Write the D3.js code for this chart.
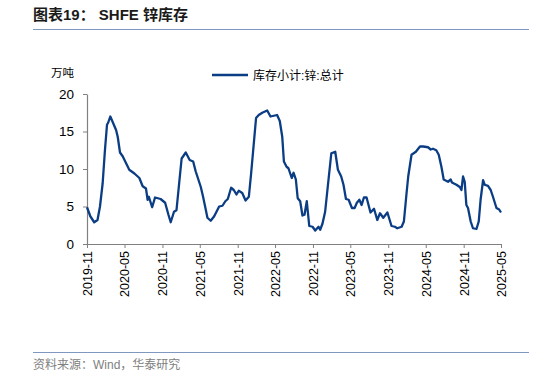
<!DOCTYPE html>
<html>
<head>
<meta charset="utf-8">
<script src="https://cdn.jsdelivr.net/npm/d3@7"></script>
<style>
  body { margin: 0; background: #fff; }
  svg { display: block; font-family: Arial, "Liberation Sans", "Noto Sans CJK SC", sans-serif; }
</style>
</head>
<body>
<div id="chart"></div>
<script>
// SHFE zinc inventory, 万吨
const dates = [
  '2019-11-01','2019-11-17','2019-12-06','2019-12-22','2020-01-03','2020-01-16','2020-01-27','2020-02-06',
  '2020-02-12','2020-02-22','2020-03-04','2020-03-21','2020-03-29','2020-04-09','2020-04-22','2020-05-08',
  '2020-05-24','2020-06-18','2020-07-12','2020-07-28','2020-08-13','2020-08-21','2020-08-27','2020-09-12',
  '2020-09-26','2020-10-23','2020-11-14','2020-11-30','2020-12-11','2020-12-27','2021-01-08','2021-01-21',
  '2021-02-02','2021-02-22','2021-03-13','2021-03-30','2021-04-11','2021-05-06','2021-05-17','2021-05-30',
  '2021-06-07','2021-06-23','2021-07-10','2021-08-03','2021-08-19','2021-09-02','2021-09-14','2021-09-30',
  '2021-10-13','2021-10-26','2021-11-06','2021-11-23','2021-12-09','2021-12-25','2022-01-05','2022-01-18',
  '2022-01-29','2022-02-11','2022-02-28','2022-03-24','2022-04-09','2022-04-25','2022-05-11','2022-05-24',
  '2022-06-05','2022-06-13','2022-06-26','2022-07-05','2022-07-21','2022-07-30','2022-08-10','2022-08-19',
  '2022-08-31','2022-09-11','2022-09-21','2022-10-02','2022-10-14','2022-10-30','2022-11-12','2022-11-28',
  '2022-12-06','2022-12-17','2022-12-30','2023-01-12','2023-01-29','2023-02-17','2023-03-02','2023-03-18',
  '2023-03-29','2023-04-10','2023-04-23','2023-05-09','2023-05-22','2023-06-02','2023-06-14','2023-06-25',
  '2023-07-06','2023-07-19','2023-08-07','2023-08-24','2023-09-09','2023-09-22','2023-10-08','2023-10-28',
  '2023-11-17','2023-12-03','2023-12-15','2024-01-05','2024-01-16','2024-01-29','2024-02-06','2024-02-22',
  '2024-03-14','2024-04-03','2024-04-19','2024-05-12','2024-05-25','2024-06-05','2024-06-21','2024-07-03',
  '2024-07-16','2024-07-27','2024-08-17','2024-08-30','2024-09-05','2024-09-27','2024-10-13','2024-10-21',
  '2024-10-29','2024-11-06','2024-11-14','2024-11-22','2024-12-05','2024-12-16','2025-01-02','2025-01-13',
  '2025-01-22','2025-02-03','2025-02-11','2025-02-27','2025-03-12','2025-03-23','2025-04-09','2025-04-22',
  '2025-05-01'
];
const zincStock = [
  4.9, 3.7, 2.9, 3.2, 5.0, 8.1, 12.5, 15.9,
  16.2, 17.0, 16.3, 15.2, 14.3, 12.2, 11.7, 10.8,
  9.9, 9.4, 8.8, 7.7, 7.4, 5.9, 6.3, 4.9,
  6.2, 6.0, 5.5, 3.9, 2.9, 4.3, 4.5, 8.1,
  11.4, 12.2, 11.2, 11.0, 9.7, 7.6, 6.3, 4.6,
  3.5, 3.1, 3.7, 5.0, 5.1, 5.7, 6.0, 7.5,
  7.2, 6.6, 7.1, 6.8, 5.8, 6.3, 9.4, 13.4,
  16.8, 17.2, 17.5, 17.8, 17.0, 17.1, 17.2, 16.4,
  14.3, 11.0, 10.3, 10.1, 8.8, 9.5, 8.6, 6.1,
  5.7, 3.8, 3.9, 5.7, 2.4, 2.3, 1.8, 2.3,
  1.9, 2.7, 4.3, 7.7, 12.1, 12.3, 9.9, 9.0,
  7.9, 6.0, 5.9, 4.8, 4.8, 5.5, 5.9, 5.2,
  6.2, 6.2, 4.2, 4.7, 3.2, 4.1, 3.5, 4.2,
  2.4, 2.3, 2.1, 2.3, 3.0, 6.8, 9.0, 11.9,
  12.3, 13.0, 13.0, 12.9, 12.6, 12.7, 12.5, 11.9,
  10.3, 8.6, 8.3, 8.6, 8.2, 7.9, 7.6, 7.2,
  9.0, 8.3, 5.2, 4.8, 3.0, 2.1, 2.0, 3.0,
  5.9, 8.5, 7.9, 7.75, 7.2, 6.3, 4.8, 4.6,
  4.2
];
const xTicks = ['2019-11','2020-05','2020-11','2021-05','2021-11','2022-05',
                '2022-11','2023-05','2023-11','2024-05','2024-11','2025-05'];
const yTicks = [0, 5, 10, 15, 20];

const W = 534, H = 377;
const margin = { top: 94, right: 33, bottom: 133, left: 87 };
const width = W - margin.left - margin.right;
const height = H - margin.top - margin.bottom;

const parse = d3.timeParse('%Y-%m-%d');
const parseM = d3.timeParse('%Y-%m');
const data = dates.map((d, i) => ({ date: parse(d), value: zincStock[i] }));

const svg = d3.select('#chart').append('svg')
  .attr('width', W)
  .attr('height', H);

// header / footer
svg.append('text')
  .attr('x', 33).attr('y', 20)
  .attr('font-size', 15).attr('font-weight', 'bold').attr('fill', '#1a1a1a')
  .text('图表19：  SHFE 锌库存');
svg.append('line')
  .attr('x1', 33).attr('x2', 529).attr('y1', 29.5).attr('y2', 29.5)
  .attr('stroke', '#8098c0').attr('stroke-width', 1.2);
svg.append('line')
  .attr('x1', 33).attr('x2', 529).attr('y1', 352.5).attr('y2', 352.5)
  .attr('stroke', '#8098c0').attr('stroke-width', 1.2);
svg.append('text')
  .attr('x', 33).attr('y', 369)
  .attr('font-size', 12).attr('fill', '#808080')
  .text('资料来源：Wind，华泰研究');

const g = svg.append('g')
  .attr('transform', `translate(${margin.left},${margin.top})`);

// Scales
const x = d3.scaleTime()
  .domain([parseM(xTicks[0]), parseM(xTicks[xTicks.length - 1])])
  .range([0, width]);
const y = d3.scaleLinear().domain([0, 20]).range([height, 0]);

// Axes
const xAxisG = g.append('g')
  .attr('transform', `translate(0,${height})`)
  .call(d3.axisBottom(x).tickValues(xTicks.map(parseM)).tickFormat(d3.timeFormat('%Y-%m'))
    .tickSizeInner(4).tickSizeOuter(0));
xAxisG.selectAll('text')
  .attr('transform', 'rotate(-90)')
  .attr('text-anchor', 'end')
  .attr('x', -7).attr('y', 0).attr('dy', '0.35em')
  .attr('font-size', 12.5).attr('fill', '#000');

const yAxisG = g.append('g')
  .call(d3.axisLeft(y).tickValues(yTicks).tickSizeInner(4).tickSizeOuter(0).tickPadding(9));
yAxisG.selectAll('text').attr('font-size', 13.5).attr('fill', '#000');

g.selectAll('.domain, .tick line').attr('stroke', '#808080');
g.selectAll('.domain').attr('stroke-width', 1.2);

// unit label
svg.append('text')
  .attr('x', 51).attr('y', 77)
  .attr('font-size', 11.5).attr('fill', '#000')
  .text('万吨');

// Legend
const lineColor = '#0b3d85';
svg.append('line')
  .attr('x1', 212).attr('x2', 248).attr('y1', 75).attr('y2', 75)
  .attr('stroke', lineColor).attr('stroke-width', 2.5);
svg.append('text')
  .attr('x', 253).attr('y', 79.5)
  .attr('font-size', 12).attr('fill', '#000')
  .text('库存小计:锌:总计');

// Line
const line = d3.line()
  .x(d => x(d.date))
  .y(d => y(d.value));

g.append('path')
  .datum(data)
  .attr('fill', 'none')
  .attr('stroke', lineColor)
  .attr('stroke-width', 2.3)
  .attr('stroke-linejoin', 'round')
  .attr('d', line);
</script>
</body>
</html>
